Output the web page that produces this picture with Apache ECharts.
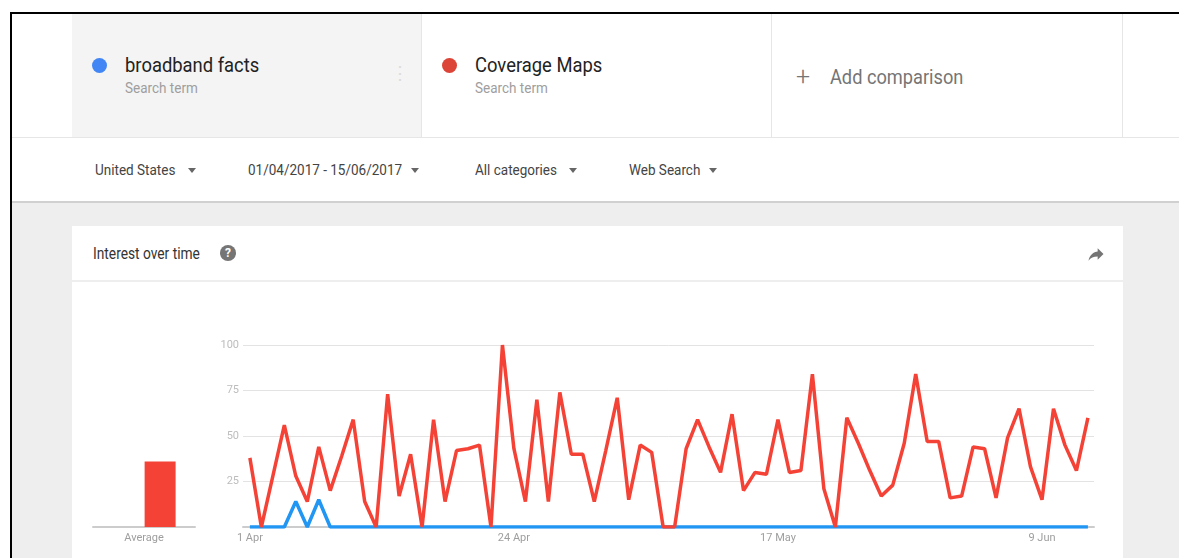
<!DOCTYPE html>
<html>
<head>
<meta charset="utf-8">
<script src="https://cdn.jsdelivr.net/npm/echarts@6.0.0/dist/echarts.min.js"></script>
<style>
  body { margin: 0; width: 1179px; height: 558px; overflow: hidden; background: #fff; font-family: Roboto, "Noto Sans", sans-serif; position: relative; }
  .abs { position: absolute; }
  .txt { position: absolute; white-space: nowrap; line-height: 1; transform-origin: left center; }
  .frame-top { left: 10px; top: 12px; right: 0; height: 2px; background: #000; }
  .frame-left { left: 10px; top: 12px; width: 2px; bottom: 0; background: #000; }
  .header { left: 12px; top: 14px; right: 0; height: 123px; border-bottom: 1px solid #e6e6e6; }
  .cell { position: absolute; top: 0; height: 123px; border-right: 1px solid #e6e6e6; }
  .dot { position: absolute; width: 15px; height: 15px; border-radius: 50%; }
  .term { font-size: 20px; color: #222; transform: scaleX(.92); }
  .sub { font-size: 15px; color: #9e9e9e; transform: scaleX(.9); }
  .filters { left: 12px; top: 138px; right: 0; height: 63px; background: #fff; border-bottom: 2px solid #d0d0d0; }
  .filt { font-size: 15px; color: #444; transform: scaleX(.9); }
  .caret { position: absolute; width: 0; height: 0; border-left: 4.5px solid transparent; border-right: 4.5px solid transparent; border-top: 5px solid #666; }
  .bg { left: 12px; top: 203px; right: 0; bottom: 0; background: #eeeeee; }
  .card { left: 72px; top: 226px; width: 1051px; height: 340px; background: #fff; }
  .card-div { left: 72px; top: 280px; width: 1051px; height: 2px; background: #eeeeee; }
  .help { left: 220px; top: 245px; width: 16px; height: 16px; border-radius: 50%; background: #757575; color: #fff; font-size: 12px; font-weight: bold; text-align: center; line-height: 16px; }
  #chart { position: absolute; left: 72px; top: 282px; width: 1051px; height: 276px; }
</style>
</head>
<body>
<div class="abs header">
  <div class="cell" style="left:60px;width:349px;background:#f4f4f4;"></div>
  <div class="cell" style="left:410px;width:349px;"></div>
  <div class="cell" style="left:760px;width:350px;"></div>
</div>
<div class="abs frame-top"></div>
<div class="abs frame-left"></div>

<div class="dot" style="left:91.5px;top:57.5px;background:#4285f4;"></div>
<div class="txt term" style="left:125px;top:55px;">broadband facts</div>
<div class="txt sub" style="left:125px;top:80.5px;">Search term</div>
<div class="txt" style="left:391px;top:64px;font-size:18px;color:#dcdcdc;">⋮</div>

<div class="dot" style="left:441.5px;top:58px;background:#db4437;"></div>
<div class="txt term" style="left:475px;top:55px;">Coverage Maps</div>
<div class="txt sub" style="left:475px;top:80.5px;">Search term</div>

<div class="txt" style="left:796px;top:64px;font-size:25px;font-weight:300;color:#757575;">+</div>
<div class="txt" style="left:830px;top:67px;font-size:20px;color:#757575;transform:scaleX(.91);">Add comparison</div>

<div class="abs filters"></div>
<div class="txt filt" style="left:95px;top:162.5px;">United States</div>
<div class="caret" style="left:188px;top:168px;"></div>
<div class="txt filt" style="left:248px;top:162.5px;">01/04/2017 - 15/06/2017</div>
<div class="caret" style="left:411px;top:168px;"></div>
<div class="txt filt" style="left:475px;top:162.5px;">All categories</div>
<div class="caret" style="left:569px;top:168px;"></div>
<div class="txt filt" style="left:629px;top:162.5px;">Web Search</div>
<div class="caret" style="left:709px;top:168px;"></div>

<div class="abs bg"></div>
<div class="abs card"></div>
<div class="abs card-div"></div>
<div class="txt" style="left:93px;top:246px;font-size:16px;color:#333;transform:scaleX(.86);">Interest over time</div>
<div class="abs help">?</div>
<svg class="abs" style="left:1086px;top:244px;" width="20" height="20" viewBox="0 0 24 24">
  <path d="M14 9V5l7 7-7 7v-4.1c-5 0-8.5 1.6-11 5.1 1-5 4-10 11-11z" fill="#757575"/>
</svg>

<div id="chart"></div>

<script>
// Interest over time, 1 Apr 2017 .. 13 Jun 2017 (one value per day)
const broadbandFacts = [0, 0, 0, 0, 14, 0, 15, 0, 0, 0,
  0, 0, 0, 0, 0, 0, 0, 0, 0, 0,
  0, 0, 0, 0, 0, 0, 0, 0, 0, 0,
  0, 0, 0, 0, 0, 0, 0, 0, 0, 0,
  0, 0, 0, 0, 0, 0, 0, 0, 0, 0,
  0, 0, 0, 0, 0, 0, 0, 0, 0, 0,
  0, 0, 0, 0, 0, 0, 0, 0, 0, 0,
  0, 0, 0, 0];
const coverageMaps = [38, 0, 28, 56, 28, 14, 44, 20, 39, 59,
  14, 0, 73, 17, 40, 0, 59, 14, 42, 43,
  45, 0, 100, 43, 14, 70, 14, 74, 40, 40,
  14, 42, 71, 15, 45, 41, 0, 0, 43, 59,
  44, 30, 62, 20, 30, 29, 59, 30, 31, 84,
  21, 0, 60, 46, 31, 17, 23, 46, 84, 47,
  47, 16, 17, 44, 43, 16, 49, 65, 33, 15,
  65, 45, 31, 60];

const tickDays = [0, 23, 46, 69];
const tickLabels = ["1 Apr", "24 Apr", "17 May", "9 Jun"];
const yTicks = [0, 25, 50, 75, 100];

const avgCategories = ["Average"];
const avgBroadband = [0];
const avgCoverage = [36];

const BLUE = "#2196f3";
const RED = "#f44336";

let myChart = echarts.init(document.getElementById("chart"));

const option = {
  animation: false,
  grid: [
    { left: 21, top: 63, width: 102, height: 182 },
    { left: 171, top: 63, width: 851, height: 182 },
  ],
  xAxis: [
    {
      gridIndex: 0,
      type: "category",
      data: avgCategories,
      axisTick: { show: false },
      axisLine: { lineStyle: { color: "#cccccc", width: 2 } },
      axisLabel: { color: "#9e9e9e", fontSize: 11, margin: 6, fontFamily: "Roboto" },
    },
    {
      gridIndex: 1,
      type: "value",
      min: -0.6,
      max: 73.53,
      axisTick: { show: false },
      splitLine: { show: false },
      axisLine: { show: true, lineStyle: { color: "#cccccc", width: 2 } },
      axisLabel: {
        customValues: tickDays,
        color: "#9e9e9e",
        fontSize: 11,
        margin: 6,
        fontFamily: "Roboto",
        formatter: (v) => tickLabels[tickDays.indexOf(Math.round(v))] || "",
      },
    },
  ],
  yAxis: [
    {
      gridIndex: 0,
      type: "value",
      min: 0,
      max: 100,
      show: false,
    },
    {
      gridIndex: 1,
      type: "value",
      min: yTicks[0],
      max: yTicks[yTicks.length - 1],
      interval: 25,
      axisLine: { show: false },
      axisTick: { show: false },
      splitLine: { lineStyle: { color: "#e3e3e3", width: 1 } },
      axisLabel: {
        color: "#bdbdbd",
        fontSize: 11,
        margin: 4,
        fontFamily: "Roboto",
        formatter: (v) => (v === 0 ? "" : v),
      },
    },
  ],
  series: [
    {
      name: "broadband facts",
      type: "bar",
      xAxisIndex: 0,
      yAxisIndex: 0,
      data: avgBroadband,
      barWidth: 31,
      barGap: "4%",
      itemStyle: { color: BLUE },
    },
    {
      name: "Coverage Maps",
      type: "bar",
      xAxisIndex: 0,
      yAxisIndex: 0,
      data: avgCoverage,
      barWidth: 31,
      barGap: "4%",
      itemStyle: { color: RED },
    },
    {
      name: "broadband facts",
      type: "line",
      xAxisIndex: 1,
      yAxisIndex: 1,
      data: broadbandFacts.map((v, i) => [i, v]),
      showSymbol: false,
      lineStyle: { color: BLUE, width: 3.5 },
      itemStyle: { color: BLUE },
    },
    {
      name: "Coverage Maps",
      type: "line",
      xAxisIndex: 1,
      yAxisIndex: 1,
      data: coverageMaps.map((v, i) => [i, v]),
      showSymbol: false,
      lineStyle: { color: RED, width: 3.5 },
      itemStyle: { color: RED },
    },
  ],
};

myChart.setOption(option);
window.addEventListener("resize", () => {
  myChart.resize();
});
</script>
</body>
</html>
